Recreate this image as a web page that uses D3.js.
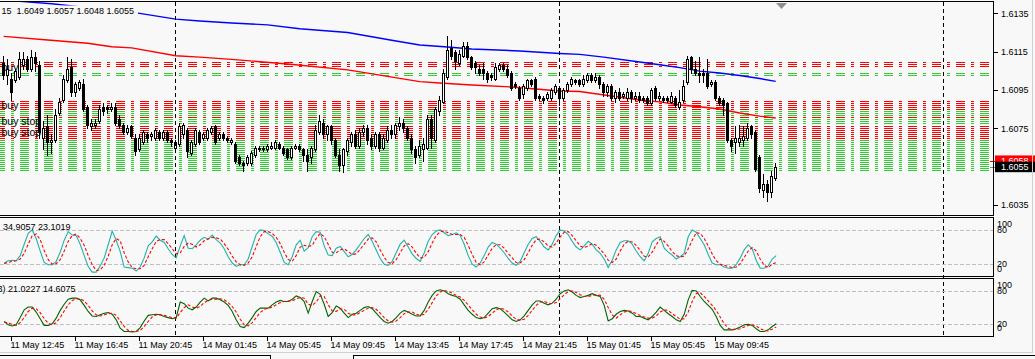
<!DOCTYPE html>
<html>
<head>
<meta charset="utf-8">
<script src="https://cdn.jsdelivr.net/npm/d3@7"></script>
<style>
html, body { margin: 0; padding: 0; background: #f8f8f8; overflow: hidden; }
svg { display: block; font-family: "Liberation Sans", Arial, sans-serif; font-size: 9px; }
</style>
</head>
<body>
<div id="chart"></div>
<script>
// GBPUSD M15 candles, one entry per bar (bar 0 = 11 May 12:15)
const barOpen = [
1.6109,1.6103,1.6101,1.6100,1.6102,1.6108,1.6111,1.6106,1.6112,1.6108,
1.6070,1.6076,1.6068,1.6069,1.6083,1.6090,1.6100,1.6107,1.6094,1.6096,
1.6098,1.6086,1.6076,1.6077,1.6079,1.6086,1.6086,1.6085,1.6086,1.6080,
1.6077,1.6073,1.6076,1.6070,1.6064,1.6068,1.6072,1.6071,1.6070,1.6073,
1.6070,1.6073,1.6069,1.6065,1.6067,1.6072,1.6074,1.6062,1.6067,1.6073,
1.6070,1.6070,1.6073,1.6076,1.6070,1.6072,1.6070,1.6068,1.6067,1.6060,
1.6057,1.6057,1.6057,1.6061,1.6065,1.6064,1.6064,1.6065,1.6065,1.6067,
1.6065,1.6064,1.6060,1.6065,1.6066,1.6064,1.6061,1.6060,1.6064,1.6073,
1.6078,1.6072,1.6076,1.6069,1.6061,1.6056,1.6063,1.6068,1.6072,1.6066,
1.6073,1.6075,1.6070,1.6066,1.6072,1.6065,1.6069,1.6074,1.6072,1.6076,
1.6078,1.6075,1.6070,1.6064,1.6061,1.6064,1.6065,1.6080,1.6069,1.6084,
1.6089,1.6102,1.6117,1.6115,1.6109,1.6113,1.6118,1.6112,1.6109,1.6106,
1.6106,1.6104,1.6103,1.6101,1.6106,1.6108,1.6106,1.6104,1.6098,1.6096,
1.6093,1.6096,1.6100,1.6101,1.6092,1.6091,1.6091,1.6091,1.6094,1.6096,
1.6091,1.6095,1.6098,1.6100,1.6100,1.6098,1.6100,1.6103,1.6100,1.6102,
1.6098,1.6094,1.6097,1.6091,1.6094,1.6092,1.6091,1.6094,1.6091,1.6092,
1.6091,1.6091,1.6088,1.6096,1.6091,1.6091,1.6091,1.6089,1.6091,1.6086,
1.6090,1.6099,1.6112,1.6106,1.6104,1.6104,1.6104,1.6098,1.6099,1.6091,
1.6090,1.6088,1.6069,1.6068,1.6068,1.6069,1.6070,1.6076,1.6073,1.6060,
1.6043,1.6046,1.6042,1.6049];
const barHigh = [
1.6113,1.6111,1.6104,1.6106,1.6115,1.6115,1.6113,1.6116,1.6115,1.6110,
1.6079,1.6082,1.6072,1.6085,1.6091,1.6103,1.6112,1.6111,1.6099,1.6100,
1.6101,1.6087,1.6080,1.6080,1.6087,1.6088,1.6087,1.6088,1.6088,1.6082,
1.6078,1.6077,1.6077,1.6072,1.6072,1.6074,1.6073,1.6073,1.6075,1.6074,
1.6074,1.6074,1.6070,1.6069,1.6078,1.6078,1.6075,1.6069,1.6075,1.6074,
1.6073,1.6075,1.6076,1.6077,1.6073,1.6073,1.6071,1.6070,1.6068,1.6061,
1.6058,1.6061,1.6063,1.6066,1.6066,1.6066,1.6067,1.6068,1.6069,1.6068,
1.6066,1.6065,1.6066,1.6067,1.6067,1.6065,1.6064,1.6066,1.6077,1.6082,
1.6080,1.6077,1.6077,1.6070,1.6064,1.6065,1.6070,1.6073,1.6074,1.6075,
1.6077,1.6077,1.6072,1.6073,1.6073,1.6072,1.6076,1.6077,1.6078,1.6081,
1.6080,1.6076,1.6072,1.6066,1.6069,1.6070,1.6082,1.6082,1.6086,1.6092,
1.6106,1.6123,1.6121,1.6116,1.6116,1.6120,1.6120,1.6113,1.6110,1.6108,
1.6109,1.6105,1.6104,1.6109,1.6109,1.6109,1.6108,1.6105,1.6099,1.6097,
1.6098,1.6101,1.6101,1.6102,1.6093,1.6092,1.6094,1.6096,1.6098,1.6097,
1.6096,1.6099,1.6102,1.6101,1.6101,1.6103,1.6104,1.6104,1.6104,1.6103,
1.6099,1.6098,1.6098,1.6095,1.6096,1.6094,1.6096,1.6095,1.6094,1.6094,
1.6092,1.6092,1.6096,1.6097,1.6094,1.6092,1.6092,1.6094,1.6092,1.6095,
1.6100,1.6113,1.6113,1.6110,1.6112,1.6106,1.6111,1.6100,1.6100,1.6092,
1.6091,1.6089,1.6070,1.6076,1.6077,1.6076,1.6078,1.6077,1.6074,1.6061,
1.6051,1.6048,1.6053,1.6057];
const barLow = [
1.6101,1.6098,1.6090,1.6099,1.6101,1.6106,1.6105,1.6105,1.6105,1.6070,
1.6064,1.6061,1.6062,1.6068,1.6082,1.6089,1.6099,1.6092,1.6092,1.6095,
1.6084,1.6075,1.6074,1.6075,1.6078,1.6082,1.6083,1.6084,1.6077,1.6075,
1.6072,1.6072,1.6070,1.6061,1.6063,1.6067,1.6068,1.6069,1.6069,1.6069,
1.6069,1.6068,1.6066,1.6064,1.6066,1.6070,1.6060,1.6061,1.6066,1.6067,
1.6069,1.6069,1.6072,1.6067,1.6069,1.6069,1.6068,1.6067,1.6057,1.6056,
1.6053,1.6056,1.6056,1.6060,1.6063,1.6063,1.6063,1.6064,1.6064,1.6064,
1.6061,1.6059,1.6059,1.6064,1.6063,1.6058,1.6053,1.6057,1.6063,1.6072,
1.6070,1.6069,1.6067,1.6060,1.6053,1.6052,1.6061,1.6066,1.6065,1.6065,
1.6071,1.6067,1.6064,1.6065,1.6063,1.6064,1.6068,1.6070,1.6070,1.6074,
1.6073,1.6069,1.6062,1.6057,1.6060,1.6058,1.6064,1.6065,1.6068,1.6082,
1.6088,1.6101,1.6111,1.6106,1.6108,1.6112,1.6111,1.6106,1.6104,1.6103,
1.6101,1.6099,1.6100,1.6100,1.6105,1.6105,1.6102,1.6095,1.6096,1.6090,
1.6091,1.6095,1.6097,1.6090,1.6090,1.6088,1.6090,1.6090,1.6093,1.6087,
1.6090,1.6094,1.6097,1.6098,1.6097,1.6097,1.6099,1.6099,1.6099,1.6096,
1.6092,1.6092,1.6090,1.6089,1.6090,1.6091,1.6090,1.6089,1.6090,1.6089,
1.6089,1.6087,1.6087,1.6090,1.6090,1.6089,1.6089,1.6088,1.6086,1.6085,
1.6089,1.6098,1.6104,1.6103,1.6099,1.6099,1.6096,1.6097,1.6090,1.6087,
1.6082,1.6068,1.6063,1.6062,1.6066,1.6066,1.6069,1.6070,1.6053,1.6042,
1.6039,1.6037,1.6039,1.6048];
const barClose = [
1.6103,1.6106,1.6094,1.6105,1.6111,1.6111,1.6106,1.6112,1.6109,1.6073,
1.6075,1.6068,1.6069,1.6082,1.6089,1.6101,1.6106,1.6094,1.6098,1.6099,
1.6085,1.6077,1.6078,1.6078,1.6085,1.6084,1.6085,1.6086,1.6078,1.6077,
1.6073,1.6075,1.6071,1.6063,1.6070,1.6073,1.6070,1.6072,1.6074,1.6070,
1.6073,1.6069,1.6068,1.6068,1.6076,1.6077,1.6063,1.6068,1.6074,1.6068,
1.6072,1.6074,1.6075,1.6068,1.6072,1.6070,1.6069,1.6069,1.6058,1.6057,
1.6056,1.6060,1.6062,1.6065,1.6064,1.6065,1.6066,1.6066,1.6068,1.6065,
1.6062,1.6060,1.6065,1.6066,1.6064,1.6061,1.6058,1.6065,1.6074,1.6079,
1.6072,1.6076,1.6069,1.6061,1.6056,1.6064,1.6069,1.6072,1.6066,1.6073,
1.6075,1.6069,1.6066,1.6072,1.6065,1.6070,1.6074,1.6072,1.6077,1.6078,
1.6075,1.6070,1.6064,1.6060,1.6066,1.6067,1.6080,1.6070,1.6085,1.6090,
1.6104,1.6116,1.6113,1.6110,1.6114,1.6118,1.6112,1.6107,1.6107,1.6104,
1.6104,1.6101,1.6102,1.6107,1.6108,1.6106,1.6103,1.6096,1.6097,1.6091,
1.6097,1.6100,1.6098,1.6091,1.6091,1.6090,1.6093,1.6095,1.6097,1.6091,
1.6095,1.6098,1.6101,1.6099,1.6098,1.6101,1.6103,1.6100,1.6102,1.6098,
1.6094,1.6097,1.6091,1.6094,1.6091,1.6093,1.6094,1.6091,1.6092,1.6090,
1.6090,1.6088,1.6095,1.6091,1.6092,1.6090,1.6090,1.6092,1.6087,1.6089,
1.6097,1.6111,1.6106,1.6104,1.6103,1.6103,1.6097,1.6099,1.6091,1.6088,
1.6087,1.6069,1.6066,1.6070,1.6070,1.6071,1.6075,1.6072,1.6054,1.6044,
1.6046,1.6042,1.6050,1.6055];

// moving averages, read at sample bars
const maSlowBars = [0,12,34,43,49,57,66,74,86,97,104,111,117,129,139,144,150,159,164,169,174,179,184,189,193];
const maSlow = [1.61420,1.61400,1.61350,1.61320,1.61310,1.61300,1.61290,1.61270,1.61250,1.61210,1.61185,1.61175,1.61164,1.61154,1.61141,1.61136,1.61122,1.61096,1.61082,1.61067,1.61049,1.61039,1.61026,1.61010,1.60995];
const maFastBars = [0,11,21,27,32,43,49,57,71,86,104,109,117,127,139,144,159,164,169,174,179,184,189,193];
const maFast = [1.61230,1.61211,1.61194,1.61176,1.61170,1.61129,1.61122,1.61110,1.61086,1.61055,1.60994,1.60987,1.60976,1.60966,1.60945,1.60942,1.60898,1.60888,1.60872,1.60863,1.60851,1.60830,1.60814,1.60804];

// pending order levels
const redLevels = [1.61096,1.61086,1.61076,
  1.60893,1.60882,1.60872,1.60862,1.60851,1.60809,
  1.60762,1.60752,1.60741,1.60731,1.60721,1.60710,1.60700];
const greenLevels = [1.61039,1.61029,
  1.60841,1.60830,1.60820,1.60799,1.60789,1.60778,
  1.60689,1.60679,1.60668,1.60658,1.60648,1.60637,1.60627,1.60616,
  1.60606,1.60596,1.60585,1.60575,1.60564,1.60554,1.60543,1.60533];
const orderLabels = [
  {text: "buy", price: 1.6105},
  {text: "buy", price: 1.6085},
  {text: "buy stop", price: 1.6077},
  {text: "buy stop", price: 1.6071}
];

// stochastic oscillators
const stoch1Main = [
22,26,27,26,35,55,74,80,65,43, 23,19,19,25,41,62,77,71,70,55, 35,16,6,6,17,31,54,78,62,42,
15,14,13,8,15,31,52,59,69,62, 58,47,37,31,52,70,48,47,54,62, 67,64,71,63,57,47,33,22,16,19,
19,29,51,72,80,79,73,69,58,41, 23,19,33,54,62,43,49,68,77,76, 52,36,35,48,51,42,33,37,45,55,
65,72,60,45,30,20,18,25,40,55, 62,50,38,30,25,40,60,72,78,80, 75,70,72,75,70,55,35,20,15,22,
35,50,58,55,48,40,30,22,18,25, 40,55,65,68,60,50,45,55,70,80, 78,72,60,50,45,52,60,55,45,39,
29,14,27,45,58,61,61,55,43,33, 26,39,59,65,68,48,41,36,29,33, 39,68,80,76,65,54,37,22,19,19,
15,13,13,19,31,45,54,47,27,13, 13,17,29,35];
const stoch1Signal = [
21,23,25,26,29,39,55,70,73,63, 44,28,20,21,28,43,60,70,73,65, 53,35,19,9,10,18,34,54,65,61,
40,24,14,12,12,18,33,47,60,63, 63,56,47,38,40,51,57,55,50,54, 61,64,67,66,64,56,46,34,24,19,
18,22,33,51,68,77,77,74,67,56, 41,28,25,35,50,53,51,53,65,74, 68,55,41,40,45,47,42,37,38,46,
55,64,66,59,45,32,23,21,28,40, 52,56,50,39,31,32,42,57,70,77, 78,75,72,72,72,67,53,37,23,19,
24,36,48,54,54,48,39,31,23,22, 28,40,53,63,64,59,52,50,57,68, 76,77,70,61,52,49,52,56,53,46,
38,27,23,29,43,55,60,59,53,44, 34,33,41,54,64,60,52,42,35,33, 34,47,62,75,74,65,52,38,26,20,
18,16,14,15,21,32,43,49,43,29, 18,14,20,23];
const stoch2Main = [
25,19,17,19,32,46,51,51,42,30, 18,18,21,31,45,56,65,67,67,64, 54,43,35,34,37,40,41,38,28,13,
7,7,6,7,14,26,36,37,38,37, 34,32,30,32,60,57,49,46,51,60, 67,62,67,67,64,60,54,43,28,16,
14,22,32,43,49,49,49,55,60,63, 61,61,65,71,68,61,40,61,79,74, 56,34,41,53,49,40,32,38,40,45,
50,52,48,40,32,25,22,25,32,40, 45,42,38,35,35,45,60,72,80,82, 80,75,72,70,65,55,45,38,32,30,
32,40,48,50,48,42,35,28,25,28, 35,45,55,62,62,58,55,58,65,75, 80,82,78,72,68,70,72,75,72,70,
54,26,30,38,43,45,44,40,34,34, 31,28,34,42,51,45,39,34,28,25, 38,64,81,80,70,61,54,47,34,18,
10,10,10,12,15,19,20,18,12,7, 7,10,16,21];
const stoch2Signal = [
24,22,20,18,23,32,43,49,48,41, 30,22,19,23,32,44,55,63,66,66, 62,54,44,37,35,37,39,40,36,26,
16,9,7,7,9,16,25,33,37,37, 36,34,32,31,41,50,55,51,49,52, 59,63,65,65,66,64,59,52,42,29,
19,17,23,32,41,47,49,51,55,59, 61,62,62,66,68,67,56,54,60,71, 70,55,44,43,48,47,40,37,37,41,
45,49,50,47,40,32,26,24,26,32, 39,42,42,38,36,38,47,59,71,78, 81,79,76,72,69,63,55,46,38,33,
31,34,40,46,49,47,42,35,29,27, 29,36,45,54,60,61,58,57,59,66, 73,79,80,77,73,70,70,72,73,72,
65,50,37,31,37,42,44,43,39,36, 33,31,31,35,42,46,45,39,34,29, 30,42,61,75,77,70,62,54,45,33,
21,13,10,11,12,15,18,19,17,12, 9,8,11,15];

const priceTicks = [1.6135, 1.6115, 1.6095, 1.6075, 1.6055, 1.6035];
const timeLabels = ["11 May 12:45","11 May 16:45","11 May 20:45","14 May 01:45","14 May 05:45","14 May 09:45",
  "14 May 13:45","14 May 17:45","14 May 21:45","15 May 01:45","15 May 05:45","15 May 09:45"];
const bidPrice = 1.6055, askPrice = 1.6058;
const headerText = "15  1.6049 1.6057 1.6048 1.6055";
const stoch1Text = "34.9057 23.1019";
const stoch2Text = "3) 21.0227 14.6075";

// bar times (M15, Friday closes 22:45, Monday opens 00:00)
const barTimes = [];
{
  let day = 11, min = 12 * 60 + 15;
  for (let k = 0; k < 260; k++) {
    barTimes.push({day, min});
    min += 15;
    if (day === 11 && min > 22 * 60 + 45) { day = 14; min = 0; }
    else if (min >= 1440) { day++; min = 0; }
  }
}
const pad = n => String(n).padStart(2, "0");
const fmtTime = t => `${t.day} May ${pad(Math.floor(t.min / 60))}:${pad(t.min % 60)}`;

const W = 1035, H = 359, bg = "#f8f8f8", plotR = 993.5;
const svg = d3.select("#chart").append("svg").attr("width", W).attr("height", H);
svg.append("rect").attr("width", W).attr("height", H).attr("fill", bg);

const x = d3.scaleLinear().domain([0, 247]).range([3.7, 3.7 + 4 * 247]);
const y = d3.scaleLinear().domain([1.6035, 1.6135]).range([205, 13.4]);
const yK1 = d3.scaleLinear().domain([0, 100]).range([275.6, 218.5]);
const yK2 = d3.scaleLinear().domain([0, 100]).range([335.4, 279.8]);
const row = v => Math.round(v) + 0.5;

const defs = svg.append("defs");
defs.append("clipPath").attr("id", "clipMain").append("rect").attr("x", 0).attr("y", 2).attr("width", 993).attr("height", 213);
defs.append("clipPath").attr("id", "clipK1").append("rect").attr("x", 0).attr("y", 218).attr("width", 993).attr("height", 58);
defs.append("clipPath").attr("id", "clipK2").append("rect").attr("x", 0).attr("y", 279).attr("width", 993).attr("height", 57);

// ---- main panel
const main = svg.append("g").attr("clip-path", "url(#clipMain)");

const lv = main.append("g").attr("shape-rendering", "crispEdges");
[[redLevels, "#ff0000"], [greenLevels, "#32cd32"]].forEach(([arr, col]) => {
  lv.selectAll(null).data(arr).join("line")
    .attr("x1", -4.5).attr("x2", plotR)
    .attr("y1", d => row(y(d))).attr("y2", d => row(y(d)))
    .attr("stroke", col).attr("stroke-dasharray", "9,6,3,6");
});

main.append("g").selectAll("text").data(orderLabels).join("text")
  .attr("x", 1.5).attr("y", d => y(d.price)).attr("fill", "#000").style("font-size", "10.5px")
  .text(d => d.text);

// period separators
const seps = barTimes.map((t, k) => ({t, k})).filter(d => d.k > 0 && d.t.min === 0).map(d => d.k);
svg.append("g").selectAll("line").data(seps).join("line")
  .attr("x1", d => Math.floor(x(d)) + 0.5).attr("x2", d => Math.floor(x(d)) + 0.5)
  .attr("y1", 2).attr("y2", 336)
  .attr("stroke", "#000").attr("stroke-dasharray", "4,3").attr("shape-rendering", "crispEdges");

const maLine = (bars, vals) => d3.line().x((d, i) => x(bars[i])).y(d => y(d))(vals);
main.append("path").attr("d", maLine(maSlowBars, maSlow)).attr("fill", "none").attr("stroke", "#0000ff").attr("stroke-width", 1.4);
main.append("path").attr("d", maLine(maFastBars, maFast)).attr("fill", "none").attr("stroke", "#ff0000").attr("stroke-width", 1.4);

// candles
const bars = barOpen.map((o, i) => ({i, o, h: barHigh[i], l: barLow[i], c: barClose[i]}));
const cg = main.append("g").attr("shape-rendering", "crispEdges");
const candle = cg.selectAll("g").data(bars).join("g");
candle.append("rect")
  .attr("x", d => Math.floor(x(d.i))).attr("width", 1)
  .attr("y", d => Math.round(y(d.h))).attr("height", d => Math.round(y(d.l)) - Math.round(y(d.h)) + 1)
  .attr("fill", "#000");
candle.append("rect")
  .attr("x", d => Math.floor(x(d.i)) - 1).attr("width", 3)
  .attr("y", d => Math.round(y(Math.max(d.o, d.c))))
  .attr("height", d => Math.abs(Math.round(y(d.o)) - Math.round(y(d.c))) + 1)
  .attr("fill", "#000");
candle.filter(d => d.c > d.o && Math.abs(Math.round(y(d.o)) - Math.round(y(d.c))) >= 2).append("rect")
  .attr("x", d => Math.floor(x(d.i))).attr("width", 1)
  .attr("y", d => Math.round(y(d.c)) + 1)
  .attr("height", d => Math.round(y(d.o)) - Math.round(y(d.c)) - 1)
  .attr("fill", "#fff");

// header
svg.append("rect").attr("x", 0).attr("y", 5.5).attr("width", 138).attr("height", 10).attr("fill", bg);
svg.append("text").attr("x", 1.5).attr("y", 13.7).style("white-space", "pre").text(headerText);
svg.append("path").attr("d", "M776,3 L787,3 L781.5,9 Z").attr("fill", "#909090");

// price axis
const ax = svg.append("g").attr("shape-rendering", "crispEdges");
ax.selectAll("line").data(priceTicks).join("line")
  .attr("x1", plotR).attr("x2", 997.5).attr("y1", d => Math.round(y(d)) + 0.5).attr("y2", d => Math.round(y(d)) + 0.5)
  .attr("stroke", "#000");
svg.append("g").selectAll("text").data(priceTicks.filter(p => p !== bidPrice)).join("text")
  .attr("x", 1001).attr("y", d => y(d) + 3.3).text(d => d.toFixed(4));

// ask / bid labels
svg.append("line").attr("x1", 990).attr("x2", 995).attr("y1", row(y(askPrice))).attr("y2", row(y(askPrice))).attr("stroke", "#ff0000");
svg.append("line").attr("x1", 990).attr("x2", 995).attr("y1", row(y(bidPrice))).attr("y2", row(y(bidPrice))).attr("stroke", "#808080");
svg.append("rect").attr("x", 995).attr("y", y(askPrice) - 5.5).attr("width", 40).attr("height", 11).attr("fill", "#ff0000");
svg.append("text").attr("x", 1001).attr("y", y(askPrice) + 3.3).attr("fill", "#fff").text(askPrice.toFixed(4));
svg.append("rect").attr("x", 995).attr("y", y(bidPrice) - 5).attr("width", 40).attr("height", 10.5).attr("fill", "#000");
svg.append("text").attr("x", 1001).attr("y", y(bidPrice) + 3.3).attr("fill", "#fff").text(bidPrice.toFixed(4));

// ---- stochastic panels
function stochPanel(ys, clip, mainVals, sigVals, mainColor, label) {
  const g = svg.append("g");
  g.append("g").attr("shape-rendering", "crispEdges").selectAll("line").data([80, 20]).join("line")
    .attr("x1", 0).attr("x2", plotR).attr("y1", d => Math.round(ys(d)) + 0.5).attr("y2", d => Math.round(ys(d)) + 0.5)
    .attr("stroke", "#c0c0c0").attr("stroke-dasharray", "4,2");
  const line = d3.line().x((d, i) => x(i) + 0.5).y(d => ys(d));
  const lg = g.append("g").attr("clip-path", `url(#${clip})`);
  lg.append("path").attr("d", line(mainVals)).attr("fill", "none").attr("stroke", mainColor).attr("stroke-width", 1.1);
  lg.append("path").attr("d", line(sigVals)).attr("fill", "none").attr("stroke", "#ff0000").attr("stroke-width", 1.1)
    .attr("stroke-dasharray", "3,2");
  const lbl = [{t: "100", v: 100, dy: 8.5}, {t: "80", v: 80, dy: 3.3}, {t: "20", v: 20, dy: 2.5}, {t: "0", v: 0, dy: -4}];
  g.selectAll("text.lv").data(lbl).join("text").attr("class", "lv")
    .attr("x", 997).attr("y", d => ys(d.v) + d.dy).text(d => d.t);
  g.append("text").attr("x", label.x).attr("y", ys(100) + 11.8).style("white-space", "pre").text(label.text);
}
stochPanel(yK1, "clipK1", stoch1Main, stoch1Signal, "#20b2aa", {text: stoch1Text, x: 3});
stochPanel(yK2, "clipK2", stoch2Main, stoch2Signal, "#006400", {text: stoch2Text, x: -2.5});

// ---- panel borders
const fr = svg.append("g").attr("fill", "none").attr("stroke", "#000").attr("shape-rendering", "crispEdges");
[[1.5, 215.5], [217.5, 276.5], [278.5, 336.5]].forEach(([t, b]) => {
  fr.append("path").attr("d", `M0,${t} H${plotR} V${b} H0`);
});

// ---- time axis
const tickBars = timeLabels.map(s => barTimes.findIndex(t => fmtTime(t) === s));
const ta = svg.append("g");
ta.selectAll("line").data(tickBars).join("line").attr("shape-rendering", "crispEdges")
  .attr("x1", d => Math.floor(x(d)) + 0.5).attr("x2", d => Math.floor(x(d)) + 0.5)
  .attr("y1", 336.5).attr("y2", 340.5).attr("stroke", "#000");
ta.selectAll("text").data(tickBars).join("text")
  .attr("x", d => Math.floor(x(d)) - 0.5).attr("y", 348.3).text(d => fmtTime(barTimes[d]));

// bottom tabs / frame
const tb = svg.append("g").attr("fill", "none").attr("shape-rendering", "crispEdges");
tb.append("path").attr("d", "M0,352.5 H1033 M1032.5,0 V353").attr("stroke", "#d0d0d0");
tb.append("path").attr("d", "M0,355.5 H270.5 V359 M353.5,359 V355.5 H1035").attr("stroke", "#000");
</script>
</body>
</html>
